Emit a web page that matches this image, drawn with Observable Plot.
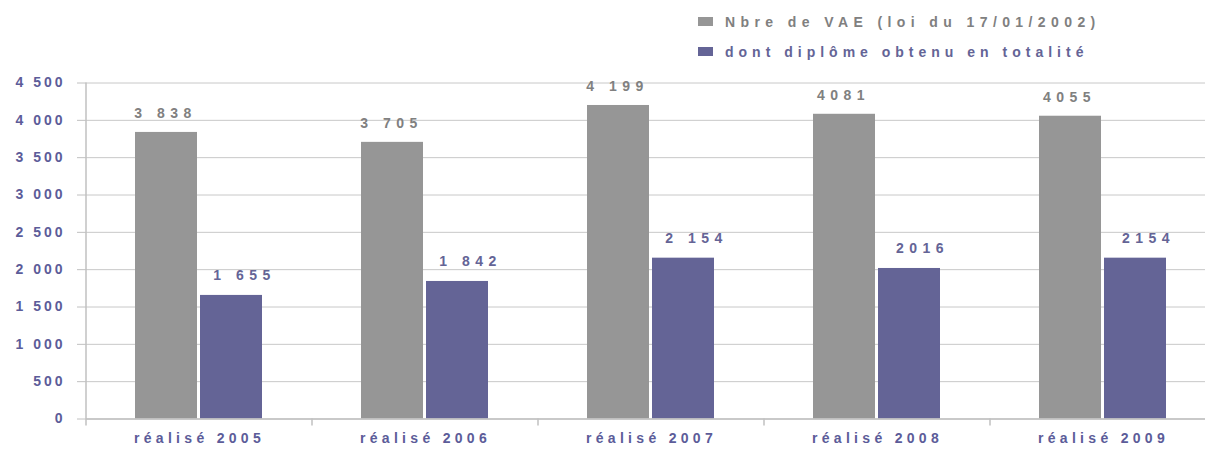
<!DOCTYPE html>
<html>
<head>
<meta charset="utf-8">
<script src="https://cdn.jsdelivr.net/npm/d3@7"></script>
<script src="https://cdn.jsdelivr.net/npm/@observablehq/plot@0.6"></script>
<style>
  html, body { margin: 0; padding: 0; background: #fff; overflow: hidden; }
  #wrap { position: relative; width: 1205px; height: 451px; }
  #legend { position: absolute; left: 698px; top: 0; font-family: "Liberation Sans", Arial, sans-serif; font-weight: bold; font-size: 14px; z-index: 2; }
  .li { position: absolute; white-space: nowrap; display: flex; align-items: center; height: 16px; }
  .sw { width: 15px; height: 9px; margin-right: 12px; }
  g[aria-label="text"] text { letter-spacing: 5.5px; }
  g[aria-label="fx-axis tick label"] text { letter-spacing: 4.3px; }
  g[aria-label="y-axis tick label"] text { letter-spacing: 3px; }
</style>
</head>
<body>
<div id="wrap">
  <div id="legend"></div>
</div>
<script>
const categories = ["réalisé 2005", "réalisé 2006", "réalisé 2007", "réalisé 2008", "réalisé 2009"];
const series = ["Nbre de VAE (loi du 17/01/2002)", "dont diplôme obtenu en totalité"];
const vaeValues = [3838, 3705, 4199, 4081, 4055];
const diplomeValues = [1655, 1842, 2154, 2016, 2154];
const vaeLabels = ["3 838", "3 705", "4 199", "4081", "4055"];
const diplomeLabels = ["1 655", "1 842", "2 154", "2016", "2154"];
const yTicks = [0, 500, 1000, 1500, 2000, 2500, 3000, 3500, 4000, 4500];
const colors = ["#969696", "#646496"];
const labelColors = ["#808080", "#646496"];

const rows = [];
categories.forEach((c, i) => {
  rows.push({cat: c, series: series[0], value: vaeValues[i], label: vaeLabels[i]});
  rows.push({cat: c, series: series[1], value: diplomeValues[i], label: diplomeLabels[i]});
});

const fmt = d => d3.format(",")(d).replace(/,/g, " ");

const chart = Plot.plot({
  width: 1205,
  height: 451,
  marginLeft: 86,
  marginRight: -11,
  marginTop: 82.5,
  marginBottom: 32.5,
  style: {fontFamily: "'Liberation Sans', Arial, sans-serif", fontSize: "14px", fontWeight: "bold", background: "white"},
  fx: {domain: categories, padding: 0, label: null},
  x: {domain: series, paddingInner: 0.045, paddingOuter: 0.735, axis: null},
  y: {domain: [0, 4500], label: null},
  color: {domain: series, range: colors},
  marks: [
    Plot.gridY(yTicks, {stroke: "#c8c8c8", strokeOpacity: 1}),
    Plot.barY(rows, {fx: "cat", x: "series", y: "value", fill: "series"}),
    Plot.text(rows.filter(d => d.series === series[0]), {fx: "cat", x: "series", y: "value", text: "label", fill: labelColors[0], lineAnchor: "middle", dy: -19, dx: -1, fontWeight: "bold", fontSize: 14}),
    Plot.text(rows.filter(d => d.series === series[1]), {fx: "cat", x: "series", y: "value", text: "label", fill: labelColors[1], lineAnchor: "middle", dy: -20, dx: 13, fontWeight: "bold", fontSize: 14}),
    Plot.ruleY([0], {stroke: "#c0c0c0", strokeWidth: 1.5}),
    Plot.axisY(yTicks, {anchor: "left", tickFormat: fmt, tickSize: 9, tickPadding: 12, stroke: "#c0c0c0", fill: "#5c5c99", fontSize: 14, fontWeight: "bold"}),
    Plot.axisFx({anchor: "bottom", tickSize: 0, tickPadding: 14, fill: "#5c5c99", fontSize: 14, fontWeight: "bold", label: null})
  ]
});

document.getElementById("wrap").appendChild(chart);

// y-axis line and category boundary ticks, positioned from the chart's own scales
const fx = chart.scale("fx");
const y = chart.scale("y");
const svg = d3.select(chart);
const yTop = y.apply(4500), yBot = y.apply(0);
const x0 = fx.range[0];
const g = svg.append("g").attr("stroke", "#c0c0c0").attr("stroke-width", 1.5);
g.append("line").attr("x1", x0).attr("x2", x0).attr("y1", yTop).attr("y2", yBot + 7);
categories.forEach((c, i) => {
  if (i === 0) return;
  const xb = fx.apply(c) - (fx.step - fx.bandwidth) / 2;
  g.append("line").attr("x1", xb).attr("x2", xb).attr("y1", yBot).attr("y2", yBot + 7);
});
chart.style.position = "absolute";
chart.style.left = "0";
chart.style.top = "0";

// legend
const legend = document.getElementById("legend");
const spacing = [5.4, 5.0];
series.forEach((s, i) => {
  const li = document.createElement("div");
  li.className = "li";
  li.style.top = (i === 0 ? 13.5 : 43.5) + "px";
  li.innerHTML = `<div class="sw" style="background:${colors[i]}"></div><span style="color:${labelColors[i]};letter-spacing:${spacing[i]}px">${s}</span>`;
  legend.appendChild(li);
});
</script>
</body>
</html>
